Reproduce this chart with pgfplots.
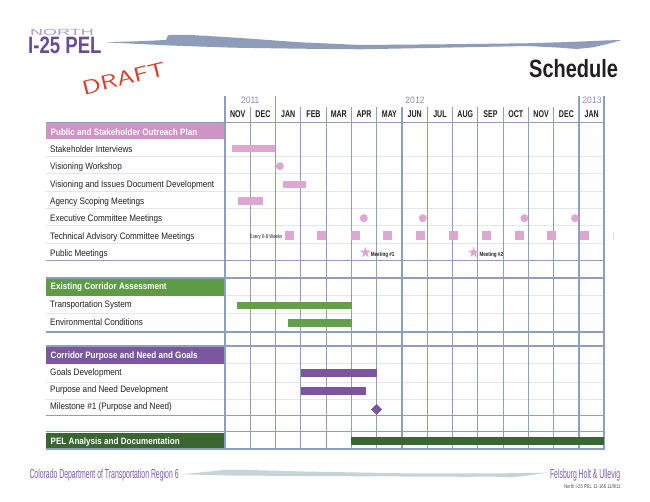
\documentclass[border=0pt]{standalone}
\usepackage{pgfplots}
\pgfplotsset{compat=1.18}
\usepackage{fontspec}
\usepackage{graphicx}
\setmainfont{Liberation Sans}
\newfontfamily\cond[FakeStretch=0.87]{Liberation Sans}
\newfontfamily\mon[FakeStretch=0.72]{Liberation Sans}
\newfontfamily\yearf[FakeStretch=0.92]{Liberation Sans}
\newfontfamily\ttl[FakeStretch=0.80]{Liberation Sans}
\newfontfamily\logof[FakeStretch=0.785]{Liberation Sans}
\newfontfamily\widef[FakeStretch=2.0]{Liberation Sans}
\newfontfamily\foot[FakeStretch=0.53]{Liberation Sans}
\newfontfamily\smallf[FakeStretch=0.77]{Liberation Sans}
\newfontfamily\tinyf[FakeStretch=0.76]{Liberation Sans}

\definecolor{gridc}{HTML}{8E9EBE}
\definecolor{lightc}{HTML}{E1E5ED}
\definecolor{pinkh}{HTML}{CF93C4}
\definecolor{pinkb}{HTML}{DCA7D0}
\definecolor{greenh}{HTML}{5E9B45}
\definecolor{greenb}{HTML}{63A04A}
\definecolor{purh}{HTML}{7B579E}
\definecolor{purb}{HTML}{7D559F}
\definecolor{dgreen}{HTML}{3A6632}
\definecolor{txt}{HTML}{231F20}
\definecolor{yearc}{HTML}{9A85BC}
\definecolor{logo}{HTML}{6A4B94}
\definecolor{northc}{HTML}{AE9CCD}
\definecolor{swoosh}{HTML}{8C9CB9}
\definecolor{swooshb}{HTML}{C6D4D7}
\definecolor{footc}{HTML}{7B5CA7}
\definecolor{draftc}{HTML}{D8402E}

\pgfdeclareplotmark{fstar}{%
  \pgfpathmoveto{\pgfpointpolar{90}{\pgfplotmarksize}}%
  \pgfpathlineto{\pgfpointpolar{126}{0.382\pgfplotmarksize}}%
  \pgfpathlineto{\pgfpointpolar{162}{\pgfplotmarksize}}%
  \pgfpathlineto{\pgfpointpolar{198}{0.382\pgfplotmarksize}}%
  \pgfpathlineto{\pgfpointpolar{234}{\pgfplotmarksize}}%
  \pgfpathlineto{\pgfpointpolar{270}{0.382\pgfplotmarksize}}%
  \pgfpathlineto{\pgfpointpolar{306}{\pgfplotmarksize}}%
  \pgfpathlineto{\pgfpointpolar{342}{0.382\pgfplotmarksize}}%
  \pgfpathlineto{\pgfpointpolar{18}{\pgfplotmarksize}}%
  \pgfpathlineto{\pgfpointpolar{54}{0.382\pgfplotmarksize}}%
  \pgfpathclose\pgfusepathqfill}

\begin{document}
\begin{tikzpicture}
\useasboundingbox (0,0) rectangle (650pt,502pt);
\fill[white] (0,0) rectangle (650pt,502pt);
% ---------- background: swooshes, grid, bands (pixel coordinates)
\begin{scope}[x=1pt,y=-1pt,yshift=502pt]
 \fill[swoosh] (105,42.3) -- (140,41.2) -- (166,40) -- (168,35.5) -- (172,34.8) -- (187,34.8)
   -- (233,37.5) -- (300,42.3) -- (360,45) -- (443,44.3) -- (527,43.3) -- (560,42.3)
   -- (576.7,41.7) -- (593,41) -- (610,40.3) -- (621.7,40) -- (610,43.3) -- (593,47.3)
   -- (576.7,49) -- (560,47.7) -- (527,46) -- (443,47.7) -- (360,49.3) -- (300,48.7)
   -- (233,47.7) -- (170,45.5) -- cycle;
 \fill[swooshb] (181.7,474.3) -- (210,471.5) -- (223,470) -- (250,470) -- (303,471.5)
   -- (403,473.3) -- (503,473.3) -- (546.7,472.7) -- (525,476) -- (510,477.3)
   -- (490,476.5) -- (470,476.8) -- (400,476.5) -- (303,476) -- (230,475.5) -- cycle;
 % light row lines
 \foreach \yy in {156.7,174,191.3,208.7,226,243.3,295.7,314,364,382.3,400}
   \draw[lightc, line width=1pt] (46,\yy) -- (604.3,\yy);
 % header bands
 \fill[pinkh]  (46,123.3) rectangle (224,139.3);
 \fill[greenh] (46,278.3) rectangle (224,295.7);
 \fill[purh]   (46,347.3) rectangle (224,364);
 \fill[dgreen] (46,432.7) rectangle (224,449);
 % vertical month lines
 \foreach \k in {1,3,4,5,6,7,8,9,10,11,12,13}
   \draw[gridc, line width=1.1pt] ({225+25.29*\k},107) -- ({225+25.29*\k},449.3);
 \foreach \k in {0,2,14,15}
   \draw[gridc, line width=1.8pt] ({225+25.29*\k},96) -- ({225+25.29*\k},449.3);
 % thick section lines
 \foreach \yy in {122.7,260.7,278.3,332,346,415.7,431.7,449.3}
   \draw[gridc, line width=1.6pt] (46,\yy) -- (605,\yy);
\end{scope}

% ---------- data
\begin{axis}[at={(0,0)}, anchor=south west, scale only axis,
  width=650pt, height=502pt,
  xmin=-8.8968, xmax=16.8051, ymin=0, ymax=502, y dir=reverse,
  axis lines=none, xtick=\empty, ytick=\empty, clip=false]
 % Public and Stakeholder Outreach Plan
 \addplot[pinkb, line width=7.5pt] coordinates {(0.289,148.7) (1.977,148.7)};
 \addplot[pinkb, only marks, mark=*, mark size=3.8pt, mark options={draw=pinkb, fill=pinkb, line width=0.2pt}]
   coordinates {(2.17,166.2)};
 \addplot[pinkb, line width=7.8pt] coordinates {(2.306,184.5) (3.203,184.5)};
 \addplot[pinkb, line width=7.8pt] coordinates {(0.514,201.3) (1.515,201.3)};
 \addplot[pinkb, only marks, mark=*, mark size=3.8pt, mark options={draw=pinkb, fill=pinkb, line width=0.2pt}]
   coordinates {(5.488,218.2) (7.82,218.2) (11.84,218.2) (13.84,218.2)};
 \addplot[pinkb, only marks, mark=square*, mark size=3.85pt, mark options={draw=pinkb, fill=pinkb, line width=0pt}]
   coordinates {(2.538,235.6) (3.828,235.6) (5.148,235.6) (6.425,235.6) (7.738,235.6)
                (9.027,235.6) (10.348,235.6) (11.633,235.6) (12.922,235.6) (14.223,235.6)};
 \addplot[pinkb!50, only marks, mark=|, mark size=3.8pt, mark options={line width=1.4pt, draw=pinkb!50}]
   coordinates {(15.37,235.6)};
 \addplot[pinkb, only marks, mark=fstar, mark size=5.8pt, mark options={fill=pinkb}]
   coordinates {(5.55,252.5) (9.83,252.5)};
 % Existing Corridor Assessment
 \addplot[greenb, line width=7.7pt] coordinates {(0.487,305.5) (5.01,305.5)};
 \addplot[greenb, line width=7.5pt] coordinates {(2.50,323) (5.01,323)};
 % Corridor Purpose and Need and Goals
 \addplot[purb, line width=8pt] coordinates {(3.0,373.3) (6.0,373.3)};
 \addplot[purb, line width=8pt] coordinates {(3.0,390.8) (5.575,390.8)};
 \addplot[purb, only marks, mark=square*, mark size=3.55pt, mark options={rotate=45, draw=purb, fill=purb, line width=0pt}]
   coordinates {(6.0,409.2)};
 % PEL Analysis and Documentation
 \addplot[dgreen, line width=8pt] coordinates {(5.0,440.7) (15.0,440.7)};
\end{axis}

% ---------- texts (pixel coordinates)
\begin{scope}[x=1pt,y=-1pt,yshift=502pt]
 \node[anchor=base west, inner sep=0, text=northc, font={\widef\fontsize{9}{10}\selectfont}] at (30,35.6) {NORTH};
 \node[anchor=base west, inner sep=0, text=logo, font={\logof\bfseries\fontsize{23.7}{26}\selectfont}] at (28,53.3) {I-25 PEL};
 \node[anchor=base west, inner sep=0, text=draftc, rotate=14, font={\sffamily\fontsize{20}{22}\selectfont}] at (84,95.5) {\scalebox{1.38}[1]{DRAFT}};
 \node[anchor=base east, inner sep=0, text=txt, font={\ttl\bfseries\fontsize{25}{28}\selectfont}] at (618.3,78) {Schedule};
 % years
 \node[anchor=base, inner sep=0, text=yearc, font={\yearf\fontsize{9.3}{10}\selectfont}] at (250.3,103.3) {2011};
 \node[anchor=base, inner sep=0, text=yearc, font={\yearf\fontsize{9.3}{10}\selectfont}] at (415,103.3) {2012};
 \node[anchor=base, inner sep=0, text=yearc, font={\yearf\fontsize{9.3}{10}\selectfont}] at (592,103.3) {2013};
 % months
 \foreach \m [count=\i from 0] in {NOV,DEC,JAN,FEB,MAR,APR,MAY,JUN,JUL,AUG,SEP,OCT,NOV,DEC,JAN}
   \node[anchor=base, inner sep=0, text=txt, font={\mon\bfseries\fontsize{9.8}{11}\selectfont}] at ({225+25.29*(\i+0.5)},117.3) {\m};
 % section headers
 \begin{scope}[every node/.style={anchor=base west, inner sep=0, text=white, font={\cond\bfseries\fontsize{9.3}{11}\selectfont}}]
  \node at (50.5,136) {Public and Stakeholder Outreach Plan};
  \node at (50.5,289.5) {Existing Corridor Assessment};
  \node at (50.5,358.5) {Corridor Purpose and Need and Goals};
  \node at (50.5,445) {PEL Analysis and Documentation};
 \end{scope}
 % task labels
 \begin{scope}[every node/.style={anchor=base west, inner sep=0, text=txt, font={\cond\fontsize{9.35}{11}\selectfont}}]
  \node at (50,152.6) {Stakeholder Interviews};
  \node at (50,169.8) {Visioning Workshop};
  \node at (50,187.1) {Visioning and Issues Document Development};
  \node at (50,204.4) {Agency Scoping Meetings};
  \node at (50,221.8) {Executive Committee Meetings};
  \node at (50,239.1) {Technical Advisory Committee Meetings};
  \node at (50,256.4) {Public Meetings};
  \node at (50,307.5) {Transportation System};
  \node at (50,325.3) {Environmental Conditions};
  \node at (50,375.3) {Goals Development};
  \node at (50,392.7) {Purpose and Need Development};
  \node at (50,410) {Milestone \#1 (Purpose and Need)};
 \end{scope}
 % small annotations
 \node[anchor=base east, inner sep=0, text=txt, font={\tinyf\fontsize{5.6}{6}\selectfont}] at (282.5,238.6) {Every 6-8 Weeks};
 \node[anchor=base west, inner sep=0, text=txt, font={\tinyf\bfseries\fontsize{6}{7}\selectfont}] at (370.7,256.5) {Meeting \#1};
 \node[anchor=base west, inner sep=0, text=txt, font={\tinyf\bfseries\fontsize{6}{7}\selectfont}] at (479.3,256.5) {Meeting \#2};
 % footer
 \node[anchor=base west, inner sep=0, text=footc, font={\foot\fontsize{13}{14}\selectfont}] at (29.3,478.3) {Colorado Department of Transportation Region 6};
 \node[anchor=base east, inner sep=0, text=footc, font={\foot\fontsize{13}{14}\selectfont}] at (620.3,478.3) {Felsburg Holt \& Ullevig};
 \node[anchor=base east, inner sep=0, text=black!70, font={\smallf\fontsize{5.5}{6}\selectfont}] at (621,488.3) {North I-25 PEL 11-166 11/9/11};
\end{scope}
\end{tikzpicture}
\end{document}
